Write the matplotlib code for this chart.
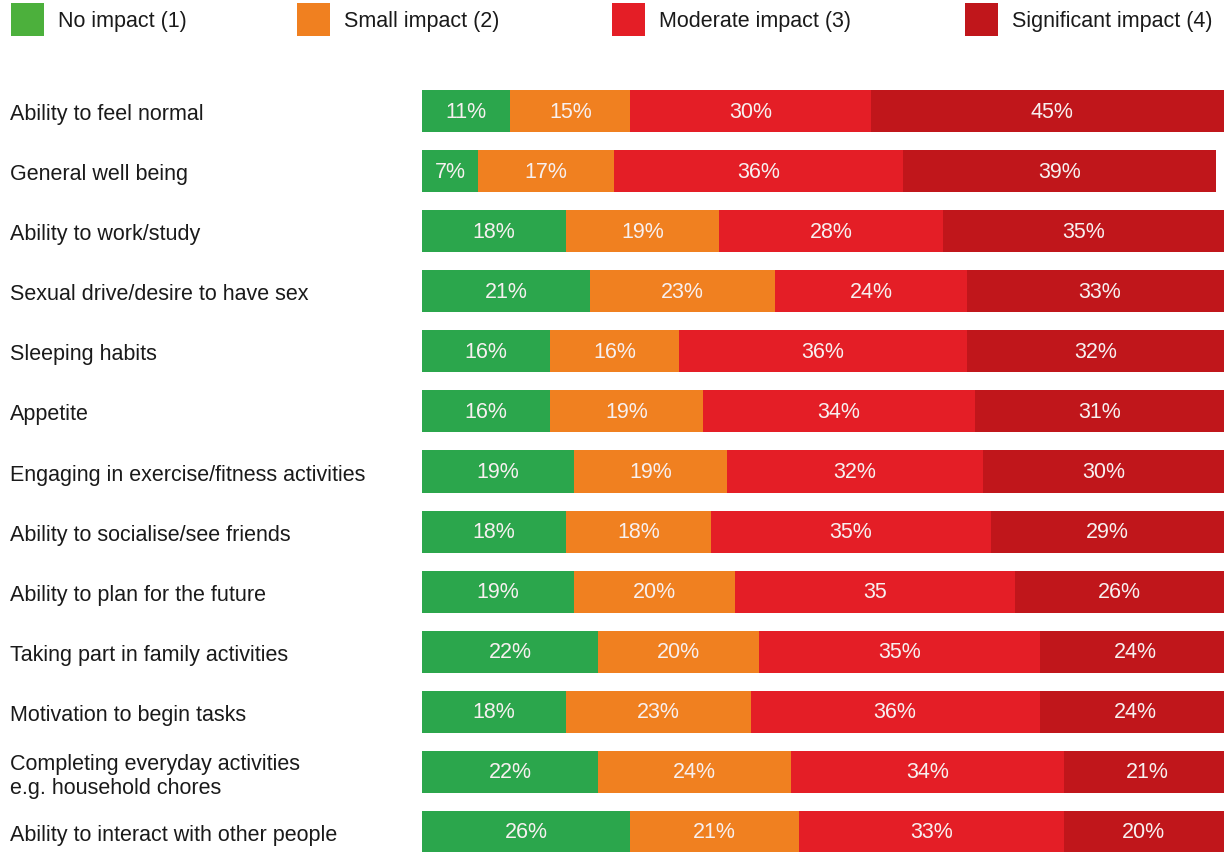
import matplotlib.pyplot as plt
from matplotlib.patches import Rectangle

plt.rcParams['font.family'] = ['Liberation Sans', 'DejaVu Sans']

items = [
    "Ability to feel normal",
    "General well being",
    "Ability to work/study",
    "Sexual drive/desire to have sex",
    "Sleeping habits",
    "Appetite",
    "Engaging in exercise/fitness activities",
    "Ability to socialise/see friends",
    "Ability to plan for the future",
    "Taking part in family activities",
    "Motivation to begin tasks",
    "Completing everyday activities\ne.g. household chores",
    "Ability to interact with other people",
]
no_impact = [11, 7, 18, 21, 16, 16, 19, 18, 19, 22, 18, 22, 26]
small_impact = [15, 17, 19, 23, 16, 19, 19, 18, 20, 20, 23, 24, 21]
moderate_impact = [30, 36, 28, 24, 36, 34, 32, 35, 35, 35, 36, 34, 33]
significant_impact = [45, 39, 35, 33, 32, 31, 30, 29, 26, 24, 24, 21, 20]

series = ["No impact (1)", "Small impact (2)", "Moderate impact (3)", "Significant impact (4)"]
colors = ["#2ba64c", "#f08020", "#e41e26", "#c0161b"]
legend_colors = ["#4cb03c", "#f08020", "#e41e26", "#c0161b"]

# the "35" in the future-planning row is printed without a percent sign
no_pct = {(8, 2)}

fs = 15.5

fig = plt.figure(figsize=(12.32, 8.53), dpi=100)
ax = fig.add_axes([0.3425, 0.0, 0.651, 0.9039])

data = [no_impact, small_impact, moderate_impact, significant_impact]
left = [0] * len(items)
for j, vals in enumerate(data):
    ax.barh(range(len(items)), vals, left=left, height=0.7, color=colors[j], linewidth=0)
    for i, v in enumerate(vals):
        txt = f"{v}" if (i, j) in no_pct else f"{v}%"
        ax.text(left[i] + v / 2, i, txt, ha='center', va='center',
                color='#f7f0f0', fontsize=fs)
    left = [a + b for a, b in zip(left, vals)]

ax.set_xlim(0, 100)
ax.set_ylim(12.333, -0.5)
ax.set_yticks(range(len(items)))
ax.set_yticklabels(items, fontsize=fs, ha='left', color='#1a1a1a', linespacing=1.15)
ax.tick_params(axis='y', length=0, pad=296.6)
ax.set_xticks([])
for s in ax.spines.values():
    s.set_visible(False)

# legend row along the top
leg_x = [11, 297, 612, 965]
for x, name, c in zip(leg_x, series, legend_colors):
    fig.add_artist(Rectangle((x / 1232, 1 - 37 / 853), 33 / 1232, 33 / 853,
                             transform=fig.transFigure, color=c, linewidth=0))
    fig.text((x + 47) / 1232, 1 - 22 / 853, name, fontsize=fs,
             va='center', ha='left', color='#1a1a1a')

fig.savefig("out.png", dpi=100)
